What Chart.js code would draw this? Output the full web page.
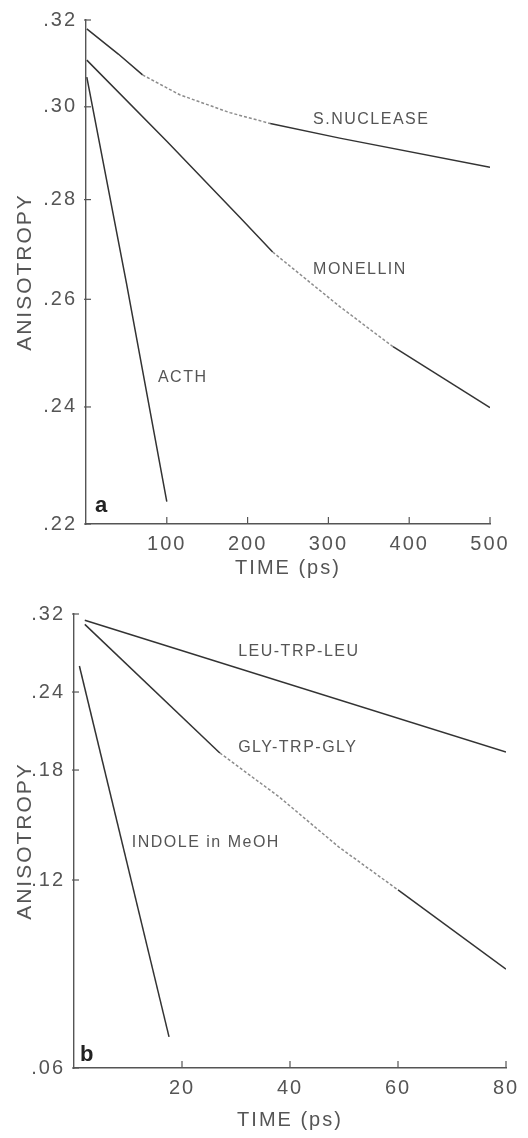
<!DOCTYPE html>
<html>
<head>
<meta charset="utf-8">
<script src="https://cdn.jsdelivr.net/npm/chart.js@4/dist/chart.umd.min.js"></script>
<style>
  html, body { margin: 0; padding: 0; background: #fff; }
  #wrap { position: relative; width: 528px; height: 1138px; }
  .panel { position: absolute; left: 0; width: 528px; }
  #panelA { top: 0; height: 580px; }
  #panelB { top: 580px; height: 558px; }
</style>
</head>
<body>
<div id="wrap">
  <div class="panel" id="panelA"><canvas id="chartA"></canvas></div>
  <div class="panel" id="panelB"><canvas id="chartB"></canvas></div>
</div>
<script>
// PANEL A  (time in ps, anisotropy)
const snTime   = [1, 40, 70, 116, 178, 228, 314, 500];
const snAniso  = [.3179, .3120, .3072, .3027, .2987, .2963, .2931, .2868];
const monTime  = [1, 100, 190, 231, 314, 380, 500];
const monAniso = [.3106, .2924, .2764, .2693, .2586, .2510, .2399];
const acthTime  = [1, 50, 100];
const acthAniso = [.3067, .2632, .2237];
const yTicksA = [.22, .24, .26, .28, .30, .32];

// PANEL B
const leuTime   = [2, 80];
const leuAniso  = [.3128, .1924];
const glyTime   = [2, 27, 38, 49, 60, 80];
const glyAniso  = [.308, .1917, .163, .1356, .1157, .0864];
const indTime   = [1, 17.6];
const indAniso  = [.2642, .0673];
const yTicksB = [.06, .12, .18, .24, .32];

Chart.defaults.font.family = "'Liberation Sans', sans-serif";
Chart.defaults.color = '#555';

const pts = (xs, ys) => xs.map((x, i) => ({x: x, y: ys[i]}));

// fitRange: stretch of the curve that is printed as a grey dotted trace
function line(label, xs, ys, fitRange) {
  const inFit = c => fitRange && c.p0.parsed.x >= fitRange[0] && c.p1.parsed.x <= fitRange[1];
  return {
    label: label,
    data: pts(xs, ys),
    borderColor: '#333',
    borderWidth: 1.5,
    pointRadius: 0,
    fill: false,
    tension: 0,
    segment: {
      borderColor: c => inFit(c) ? '#8c8c8c' : undefined,
      borderDash: c => inFit(c) ? [3, 2] : undefined
    }
  };
}

// tick marks drawn inward + curve labels
const figure = {
  id: 'figure',
  beforeDraw(chart) {
    chart.ctx.letterSpacing = '2px';
  },
  afterDatasetsDraw(chart, args, opts) {
    const {ctx, scales: {x, y}} = chart;
    ctx.save();
    ctx.strokeStyle = '#555';
    ctx.lineWidth = 1.2;
    x.ticks.forEach(t => {
      if (t.value === 0) return;
      const px = x.getPixelForValue(t.value);
      ctx.beginPath();
      ctx.moveTo(px, y.bottom);
      ctx.lineTo(px, y.bottom - 7);
      ctx.stroke();
    });
    y.ticks.forEach(t => {
      const py = y.getPixelForValue(t.value);
      ctx.beginPath();
      ctx.moveTo(x.left - 2, py);
      ctx.lineTo(x.left + 5, py);
      ctx.stroke();
    });
    ctx.textAlign = 'left';
    ctx.textBaseline = 'middle';
    opts.labels.forEach(l => {
      ctx.fillStyle = l.bold ? '#222' : '#555';
      ctx.letterSpacing = l.bold ? '0px' : '1.5px';
      ctx.font = l.bold ? "bold 22px 'Liberation Sans'" : "16px 'Liberation Sans'";
      ctx.fillText(l.text, x.getPixelForValue(l.t), y.getPixelForValue(l.v));
    });
    ctx.restore();
  }
};

function options(o) {
  return {
    animation: false,
    responsive: true,
    maintainAspectRatio: false,
    layout: { padding: o.padding },
    plugins: {
      legend: { display: false },
      tooltip: { enabled: false },
      figure: { labels: o.labels }
    },
    scales: {
      x: {
        type: 'linear',
        min: 0,
        max: o.xMax,
        grid: { display: false },
        border: { display: true, color: '#555', width: 1.4 },
        ticks: {
          stepSize: o.xStep,
          autoSkip: false,
          maxRotation: 0,
          padding: 0,
          font: { size: 20 },
          callback: v => v === 0 ? '' : v
        },
        title: {
          display: true,
          text: 'TIME (ps)',
          font: { size: 20 },
          padding: { top: 0, bottom: o.xTitlePad }
        },
        afterFit: s => { s.height = o.xHeight; }
      },
      y: {
        type: 'logarithmic',
        min: o.yTicks[0],
        max: o.yTicks[o.yTicks.length - 1],
        grid: { display: false },
        border: { display: true, color: '#555', width: 1.4 },
        afterBuildTicks: s => { s.ticks = o.yTicks.map(v => ({value: v})); },
        ticks: {
          padding: 1,
          font: { size: 20 },
          callback: v => Number(v).toFixed(2).replace(/^0/, '')
        },
        title: {
          display: true,
          text: 'ANISOTROPY',
          font: { size: 21 },
          padding: { top: 13, bottom: 0 }
        },
        afterFit: s => { s.width = o.yWidth; }
      }
    }
  };
}

new Chart(document.getElementById('chartA'), {
  type: 'line',
  data: {
    datasets: [
      line('S.NUCLEASE', snTime, snAniso, [70, 230]),
      line('MONELLIN', monTime, monAniso, [231, 420]),
      line('ACTH', acthTime, acthAniso)
    ]
  },
  options: options({
    padding: { top: 20, right: 38, left: 0, bottom: 0 },
    xMax: 500, xStep: 100, xTitlePad: 0, xHeight: 56, yWidth: 86,
    yTicks: yTicksA,
    labels: [
      { text: 'S.NUCLEASE', t: 281, v: .2971 },
      { text: 'MONELLIN', t: 281, v: .2659 },
      { text: 'ACTH', t: 89, v: .2453 },
      { text: 'a', t: 11, v: .2229, bold: true }
    ]
  }),
  plugins: [figure]
});

new Chart(document.getElementById('chartB'), {
  type: 'line',
  data: {
    datasets: [
      line('LEU-TRP-LEU', leuTime, leuAniso),
      line('GLY-TRP-GLY', glyTime, glyAniso, [27, 60]),
      line('INDOLE in MeOH', indTime, indAniso)
    ]
  },
  options: options({
    padding: { top: 34, right: 22, left: 0, bottom: 0 },
    xMax: 80, xStep: 20, xTitlePad: 6, xHeight: 70, yWidth: 74,
    yTicks: yTicksB,
    labels: [
      { text: 'LEU-TRP-LEU', t: 30.4, v: .2787 },
      { text: 'GLY-TRP-GLY', t: 30.4, v: .1956 },
      { text: 'INDOLE in MeOH', t: 10.7, v: .138 },
      { text: 'b', t: 1.1, v: .0629, bold: true }
    ]
  }),
  plugins: [figure]
});
</script>
</body>
</html>
